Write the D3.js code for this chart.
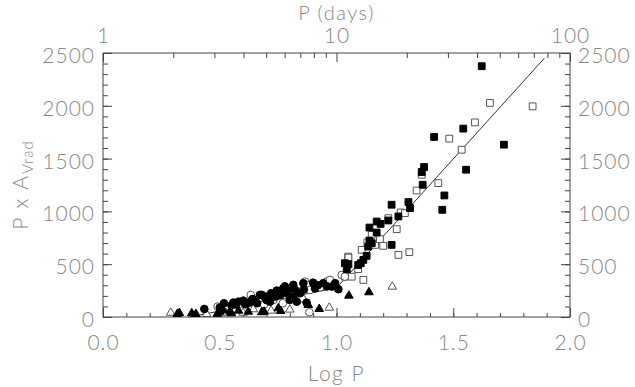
<!DOCTYPE html>
<html>
<head>
<meta charset="utf-8">
<script src="https://cdn.jsdelivr.net/npm/d3@7/dist/d3.min.js"></script>
<style>
  body { margin: 0; background: #fff; }
  text { font-family: Lato, "DejaVu Sans", sans-serif; font-weight: 300; fill: #888; }
</style>
</head>
<body>
<div id="chart"></div>
<script>
// Data: [log P, P x A_Vrad]
var filledCircles = [
  [0.434, 76], [0.50, 90], [0.518, 130], [0.55, 110], [0.558, 136], [0.57, 120], [0.58, 145],
  [0.601, 155], [0.61, 120], [0.627, 136], [0.64, 170], [0.651, 161], [0.66, 130], [0.672, 209],
  [0.68, 209], [0.694, 183], [0.70, 193], [0.70, 160], [0.715, 145], [0.72, 225], [0.737, 193],
  [0.744, 250], [0.75, 230], [0.76, 210], [0.772, 272], [0.779, 290], [0.787, 225], [0.79, 250],
  [0.80, 161], [0.815, 304], [0.815, 193], [0.822, 256], [0.83, 145], [0.844, 225], [0.858, 320],
  [0.86, 260], [0.872, 136], [0.90, 325], [0.908, 272], [0.92, 300], [0.943, 320], [0.96, 290],
  [0.98, 288], [0.994, 320], [1.008, 263]
];
var openCircles = [
  [0.491, 98], [0.58, 120], [0.63, 150], [0.633, 209], [0.69, 120], [0.73, 161], [0.77, 130],
  [0.836, 240], [0.851, 177], [0.865, 335], [0.872, 304], [0.884, 45], [0.886, 256], [0.93, 280],
  [0.958, 335], [0.972, 351], [0.99, 300], [1.022, 398], [1.036, 382]
];
var filledTriangles = [
  [0.318, 28], [0.327, 38], [0.38, 35], [0.398, 28], [0.49, 30], [0.501, 50], [0.515, 66],
  [0.544, 50], [0.55, 35], [0.58, 60], [0.622, 50], [0.68, 45], [0.69, 50], [0.751, 83],
  [0.761, 57], [0.879, 114], [0.926, 76], [1.053, 202], [1.139, 234]
];
var openTriangles = [
  [0.29, 40], [0.444, 28], [0.527, 35], [0.60, 40], [0.644, 73], [0.72, 60], [0.80, 70],
  [0.969, 88], [1.239, 287]
];
var filledSquares = [
  [1.036, 509], [1.044, 453], [1.051, 500], [1.093, 493], [1.104, 509], [1.115, 541], [1.129, 579],
  [1.136, 667], [1.141, 724], [1.151, 699], [1.141, 847], [1.172, 800], [1.172, 904], [1.189, 882],
  [1.222, 914], [1.236, 683], [1.236, 1063], [1.265, 952], [1.308, 1088], [1.315, 1031],
  [1.369, 1252], [1.365, 1373], [1.375, 1420], [1.418, 1705], [1.453, 1015], [1.462, 1151],
  [1.543, 1784], [1.555, 1395], [1.622, 2375], [1.717, 1632]
];
var openSquares = [
  [1.036, 382], [1.05, 572], [1.051, 563], [1.065, 382], [1.093, 453], [1.108, 636], [1.115, 351],
  [1.132, 705], [1.151, 778], [1.165, 683], [1.186, 737], [1.2, 674], [1.222, 936], [1.258, 832],
  [1.265, 588], [1.275, 990], [1.293, 984], [1.312, 614], [1.343, 1198], [1.365, 1347],
  [1.436, 1268], [1.483, 1689], [1.536, 1584], [1.593, 1843], [1.657, 2027], [1.840, 1995]
];
// fitted relation
var fitLogP = [0.37, 1.0, 1.89];
var fitPA = [0, 275, 2450];

var xTicks = [0, 0.5, 1, 1.5, 2];
var yTicks = [0, 500, 1000, 1500, 2000, 2500];
var topTicks = [1, 10, 100];

var w = 635, h = 387;
var mLeft = 103, mRight = 570, mTop = 53, mBottom = 317;

var svg = d3.select("#chart").append("svg")
  .attr("width", w)
  .attr("height", h);

var x = d3.scaleLinear().domain([0, 2]).range([mLeft, mRight]);
var y = d3.scaleLinear().domain([0, 2500]).range([mBottom, mTop]);
var xTop = d3.scaleLog().domain([1, 100]).range([mLeft, mRight]);

function styleAxis(g) {
  g.select(".domain").remove();
  g.selectAll(".tick line").attr("stroke", "#444");
  g.selectAll("text").attr("font-size", 21).attr("fill", "#888")
    .style("font-family", "Lato, 'DejaVu Sans', sans-serif").style("letter-spacing", "1px");
}

// minor ticks first (no labels)
svg.append("g").attr("transform", "translate(0," + mBottom + ")")
  .call(d3.axisBottom(x).tickValues(d3.range(0, 2.01, 0.1)).tickSize(-4).tickFormat(""))
  .call(styleAxis);
svg.append("g").attr("transform", "translate(" + mLeft + ",0)")
  .call(d3.axisLeft(y).tickValues(d3.range(0, 2501, 100)).tickSize(-5).tickFormat(""))
  .call(styleAxis);
svg.append("g").attr("transform", "translate(" + mRight + ",0)")
  .call(d3.axisRight(y).tickValues(d3.range(0, 2501, 100)).tickSize(-5).tickFormat(""))
  .call(styleAxis);
var topMinor = [];
[1, 10].forEach(function(d) { for (var k = 2; k < 10; k++) topMinor.push(d * k); });
svg.append("g").attr("transform", "translate(0," + mTop + ")")
  .call(d3.axisTop(xTop).tickValues(topMinor).tickSize(-5).tickFormat(""))
  .call(styleAxis);

// major ticks with labels
svg.append("g").attr("transform", "translate(0," + mBottom + ")")
  .call(d3.axisBottom(x).tickValues(xTicks).tickSize(-9).tickPadding(18).tickFormat(d3.format(".1f")))
  .call(styleAxis);
svg.append("g").attr("transform", "translate(0," + mTop + ")")
  .call(d3.axisTop(xTop).tickValues(topTicks).tickSize(-9).tickPadding(10).tickFormat(d3.format("d")))
  .call(styleAxis);
svg.append("g").attr("transform", "translate(" + mLeft + ",0)")
  .call(d3.axisLeft(y).tickValues(yTicks).tickSize(-9).tickPadding(8).tickFormat(d3.format("d")))
  .call(styleAxis)
  .selectAll("text").attr("dy", "0.45em");
svg.append("g").attr("transform", "translate(" + mRight + ",0)")
  .call(d3.axisRight(y).tickValues(yTicks).tickSize(-9).tickPadding(8).tickFormat(d3.format("d")))
  .call(styleAxis)
  .selectAll("text").attr("dy", "0.45em");

// frame
svg.append("rect")
  .attr("x", mLeft).attr("y", mTop)
  .attr("width", mRight - mLeft).attr("height", mBottom - mTop)
  .attr("fill", "none").attr("stroke", "#444").attr("stroke-width", 1);

// titles
svg.append("text").attr("x", (mLeft + mRight) / 2).attr("y", 381)
  .attr("text-anchor", "middle").attr("font-size", 21).style("letter-spacing", "1.5px")
  .text("Log P");
svg.append("text").attr("x", (mLeft + mRight) / 2).attr("y", 20)
  .attr("text-anchor", "middle").attr("font-size", 20).style("letter-spacing", "1.5px")
  .text("P (days)");
var yt = svg.append("text")
  .attr("transform", "translate(28," + ((mTop + mBottom) / 2) + ") rotate(-90)")
  .attr("text-anchor", "middle").attr("font-size", 21).style("letter-spacing", "2px");
yt.append("tspan").text("P x A");
yt.append("tspan").attr("font-size", 15).attr("dy", 5).style("letter-spacing", "1px").text("Vrad");

// fit line
var fit = fitLogP.map(function(d, i) { return [d, fitPA[i]]; });
svg.append("path")
  .datum(fit)
  .attr("fill", "none")
  .attr("stroke", "#333")
  .attr("stroke-width", 1)
  .attr("d", d3.line().x(function(d) { return x(d[0]); }).y(function(d) { return y(d[1]); }));

// markers
function drawSet(data, symbol, size, filled) {
  svg.append("g").selectAll("path")
    .data(data)
    .enter()
    .append("path")
    .attr("transform", function(d) { return "translate(" + x(d[0]) + "," + y(d[1]) + ")"; })
    .attr("d", d3.symbol().type(symbol).size(size))
    .attr("fill", filled ? "#000" : "#fff")
    .attr("stroke", filled ? "#000" : "#555")
    .attr("stroke-width", 1);
}
drawSet(openSquares, d3.symbolSquare, 46, false);
drawSet(openCircles, d3.symbolCircle, 46, false);
drawSet(openTriangles, d3.symbolTriangle, 32, false);
drawSet(filledCircles, d3.symbolCircle, 46, true);
drawSet(filledTriangles, d3.symbolTriangle, 32, true);
drawSet(filledSquares, d3.symbolSquare, 46, true);
</script>
</body>
</html>
